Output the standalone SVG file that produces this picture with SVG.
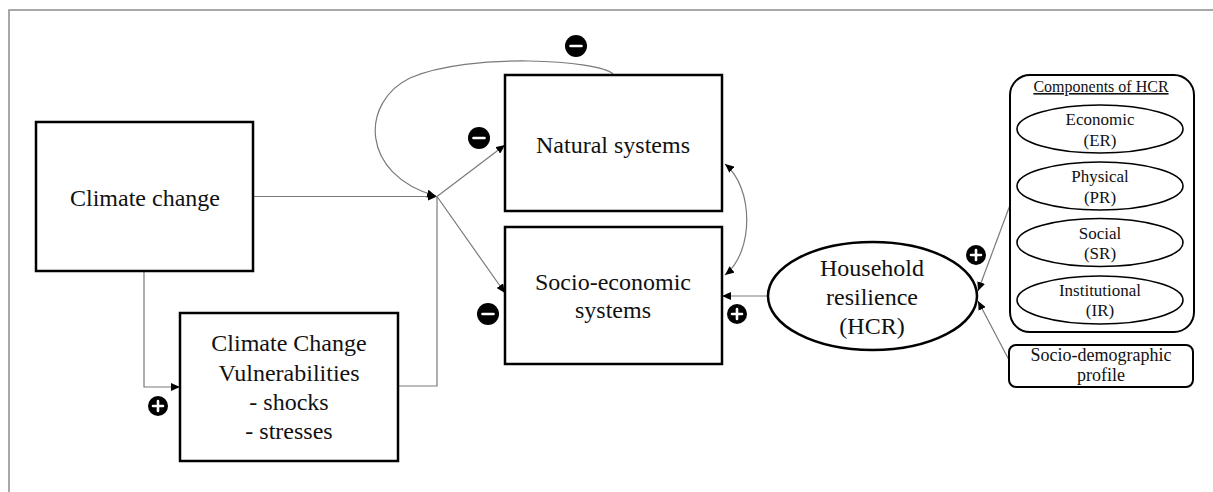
<svg xmlns="http://www.w3.org/2000/svg" width="1213" height="492" viewBox="0 0 1213 492">
  <style>
    .box { fill: #fff; stroke: #000; stroke-width: 2.5; }
    .rbox { fill: #fff; stroke: #000; stroke-width: 2; }
    .oval { fill: #fff; stroke: #000; stroke-width: 1.6; }
    .conn { fill: none; stroke: #7a7a7a; stroke-width: 1.2; }
    .frame { fill: none; stroke: #8c8c8c; stroke-width: 1.5; }
    .t24 { font-family: "Liberation Serif", "Times New Roman", serif; font-size: 24px; fill: #111; text-anchor: middle; }
    .t18 { font-family: "Liberation Serif", "Times New Roman", serif; font-size: 18px; fill: #111; text-anchor: middle; }
    .t17 { font-family: "Liberation Serif", "Times New Roman", serif; font-size: 17px; fill: #111; text-anchor: middle; }
    .t16 { font-family: "Liberation Serif", "Times New Roman", serif; font-size: 16px; fill: #111; text-anchor: middle; text-decoration: underline; }
    .badge { fill: #000; }
    .sign { stroke: #fff; stroke-width: 2.6; stroke-linecap: round; fill: none; }
  </style>
  <defs>
    <marker id="arrow" markerUnits="userSpaceOnUse" markerWidth="9" markerHeight="8" refX="9" refY="4" orient="auto-start-reverse">
      <path d="M0,0 L9,4 L0,8 z" fill="#000"/>
    </marker>
    <g id="plus">
      <circle class="badge" r="10"/>
      <path class="sign" d="M-5,0 H5 M0,-5 V5"/>
    </g>
    <g id="minus">
      <circle class="badge" r="11"/>
      <path class="sign" d="M-5.5,0 H5.5"/>
    </g>
  </defs>

  <rect width="1213" height="492" fill="#fff"/>

  <!-- page frame -->
  <path class="frame" d="M9,492 V10 H1213"/>

  <!-- connectors -->
  <g id="connectors">
    <path class="conn" d="M253,196.5 H437" marker-end="url(#arrow)"/>
    <path class="conn" d="M398,386 H437 V196.5"/>
    <path class="conn" d="M144,271 V387 H180" marker-end="url(#arrow)"/>
    <path class="conn" d="M437,196.5 L505,145" marker-end="url(#arrow)"/>
    <path class="conn" d="M437,196.5 L505,293" marker-end="url(#arrow)"/>
    <path class="conn" d="M613,74 C600,60 470,52 410,78 C360,102 360,175 436,196" marker-end="url(#arrow)"/>
    <path class="conn" d="M725,164 C754,188 754,252 725,275" marker-start="url(#arrow)" marker-end="url(#arrow)"/>
    <path class="conn" d="M768,296 H722" marker-end="url(#arrow)"/>
    <path class="conn" d="M1010,205 L978,291" marker-end="url(#arrow)"/>
    <path class="conn" d="M1009,360 L978,301" marker-end="url(#arrow)"/>
  </g>

  <!-- polarity badges -->
  <g id="badges">
    <use href="#minus" x="576" y="46"/>
    <use href="#minus" x="479" y="138"/>
    <use href="#minus" x="488" y="314"/>
    <use href="#plus" x="737" y="314"/>
    <use href="#plus" x="158" y="406"/>
    <use href="#plus" x="976" y="255"/>
  </g>

  <g id="climate-change">
    <rect class="box" x="36" y="122" width="217" height="149"/>
    <text class="t24" x="145" y="206">Climate change</text>
  </g>

  <g id="vulnerabilities">
    <rect class="box" x="180" y="313" width="218" height="148"/>
    <text class="t24" x="289" y="351">Climate Change</text>
    <text class="t24" x="289" y="381">Vulnerabilities</text>
    <text class="t24" x="289" y="410">- shocks</text>
    <text class="t24" x="289" y="439">- stresses</text>
  </g>

  <g id="natural-systems">
    <rect class="box" x="505" y="75" width="217" height="136"/>
    <text class="t24" x="613" y="153">Natural systems</text>
  </g>

  <g id="socio-economic-systems">
    <rect class="box" x="505" y="227" width="217" height="137"/>
    <text class="t24" x="613" y="290">Socio-economic</text>
    <text class="t24" x="613" y="318">systems</text>
  </g>

  <g id="household-resilience">
    <ellipse class="box" cx="872.5" cy="296" rx="104.5" ry="54"/>
    <text class="t24" x="872" y="276">Household</text>
    <text class="t24" x="872" y="305">resilience</text>
    <text class="t24" x="872" y="334">(HCR)</text>
  </g>

  <g id="components-of-hcr">
    <rect class="rbox" x="1010" y="75" width="184" height="257" rx="20" ry="20"/>
    <text class="t16" x="1101" y="92">Components of HCR</text>
    <g id="economic">
      <ellipse class="oval" cx="1100" cy="129" rx="83" ry="24"/>
      <text class="t17" x="1100" y="125">Economic</text>
      <text class="t17" x="1100" y="146">(ER)</text>
    </g>
    <g id="physical">
      <ellipse class="oval" cx="1100" cy="186" rx="83" ry="24"/>
      <text class="t17" x="1100" y="182">Physical</text>
      <text class="t17" x="1100" y="203">(PR)</text>
    </g>
    <g id="social">
      <ellipse class="oval" cx="1100" cy="242.5" rx="83" ry="24"/>
      <text class="t17" x="1100" y="239">Social</text>
      <text class="t17" x="1100" y="259">(SR)</text>
    </g>
    <g id="institutional">
      <ellipse class="oval" cx="1100" cy="300" rx="83" ry="24"/>
      <text class="t17" x="1100" y="296">Institutional</text>
      <text class="t17" x="1100" y="316">(IR)</text>
    </g>
  </g>

  <g id="socio-demographic-profile">
    <rect class="rbox" x="1009" y="345" width="184" height="42" rx="7" ry="7"/>
    <text class="t18" x="1101" y="361">Socio-demographic</text>
    <text class="t18" x="1101" y="381">profile</text>
  </g>
</svg>
